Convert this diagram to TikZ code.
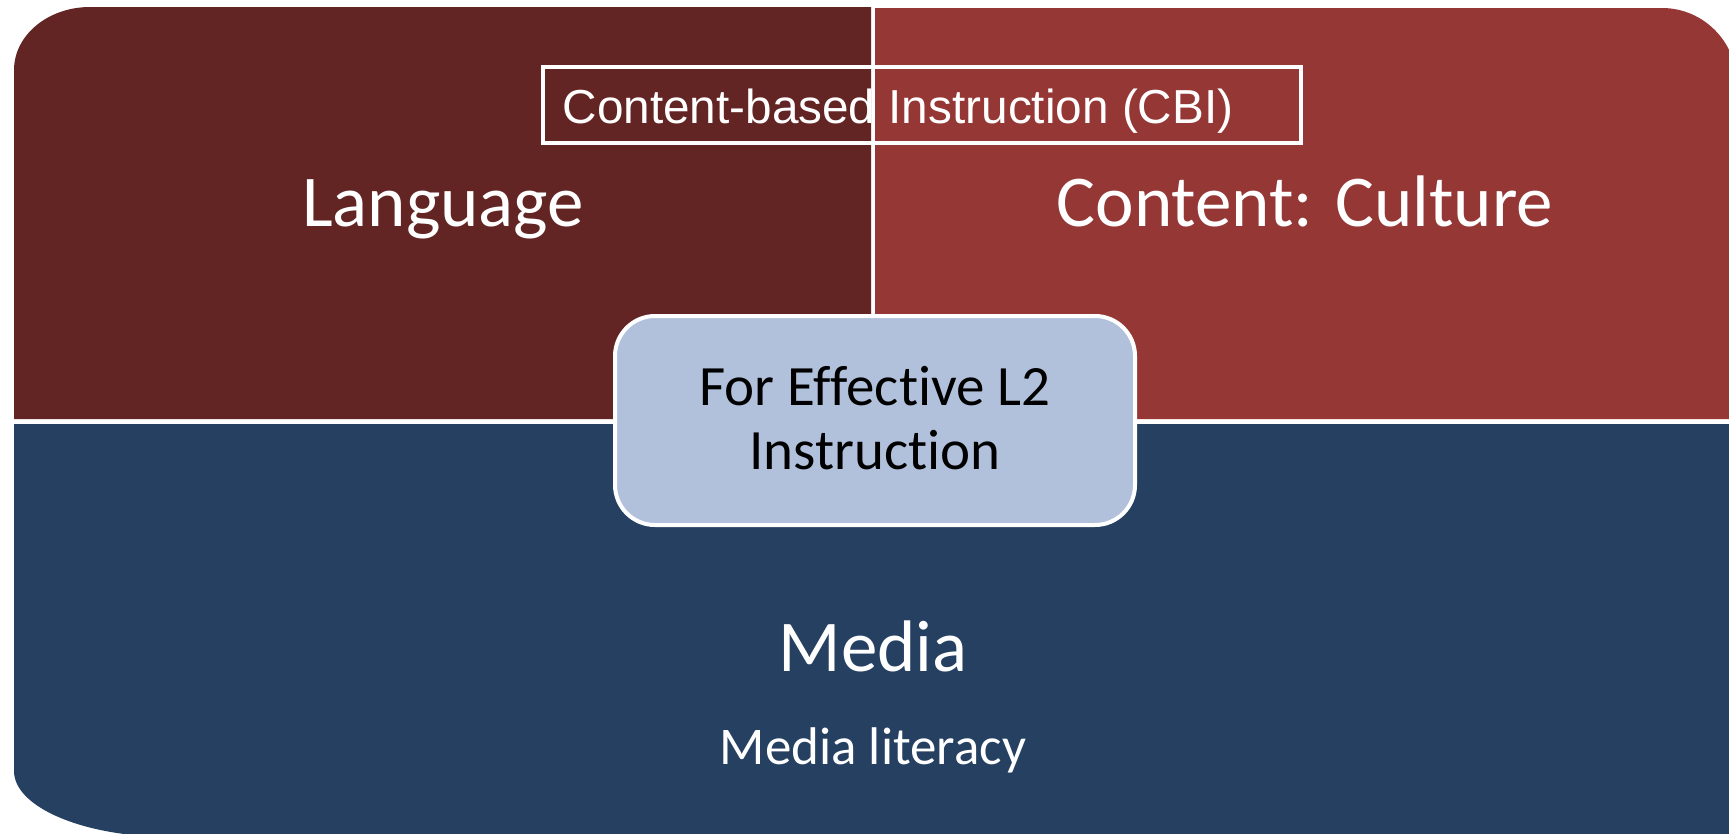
\documentclass[tikz,border=0pt]{standalone}
\usepackage{fontspec}
\setmainfont{Carlito}[Ligatures={NoCommon,NoRare,NoContextual}]
\newfontfamily\arialf{Liberation Sans}
\definecolor{langred}{HTML}{632523}
\definecolor{cultred}{HTML}{953735}
\definecolor{mediablue}{HTML}{254061}
\definecolor{centreblue}{HTML}{B2C1DB}
\tikzset{
  biglabel/.style={text=white, anchor=base, inner sep=0pt, font=\fontsize{73}{80}\selectfont},
  smalllabel/.style={text=white, anchor=base, inner sep=0pt, font=\fontsize{53}{60}\selectfont},
  centrebox/.style={fill=centreblue, draw=white, line width=4pt, rounded corners=40pt},
  centrelabel/.style={text=black, anchor=base, inner sep=0pt, font=\fontsize{57}{64}\selectfont},
  cbibox/.style={draw=white, line width=4pt},
  cbilabel/.style={text=white, anchor=base, inner sep=0pt, font=\arialf\fontsize{47.7}{54}\selectfont}
}
\begin{document}
\begin{tikzpicture}[x=1pt,y=-1pt]
\useasboundingbox (0,0) rectangle (1729,833);
\clip (0,0) rectangle (1729,833);
% top-left quadrant
\fill[langred] (14,419) -- (14,70) .. controls (14,35.2) and (48,7) .. (90,7) -- (871,7) -- (871,419) -- cycle;
% top-right quadrant
\fill[cultred] (875,8) -- (1662,8) .. controls (1703.4,8) and (1737,42) .. (1737,84) -- (1737,419) -- (875,419) -- cycle;
% bottom band
\fill[mediablue] (14,424) -- (14,771) .. controls (14,807.5) and (84.3,837) .. (171,837) -- (1900,837) -- (1900,424) -- cycle;
% labels
\node[biglabel] (lang) at (443,226) {Language};
\node[biglabel] (cult) at (1305,226) {Content: Culture};
\node[biglabel] (media) at (873,671) {Media};
\node[smalllabel] (lit) at (873,764) {Media literacy};
% CBI box
\draw[cbibox] (543,67) rectangle (1301,143);
\node[cbilabel] (cbi) at (898,123) {Content-based Instruction (CBI)};
% centre box
\draw[centrebox] (615,316) rectangle (1135,525);
\node[centrelabel] (eff1) at (875,405) {For Effective L2};
\node[centrelabel] (eff2) at (875,469) {Instruction};
\end{tikzpicture}
\end{document}
